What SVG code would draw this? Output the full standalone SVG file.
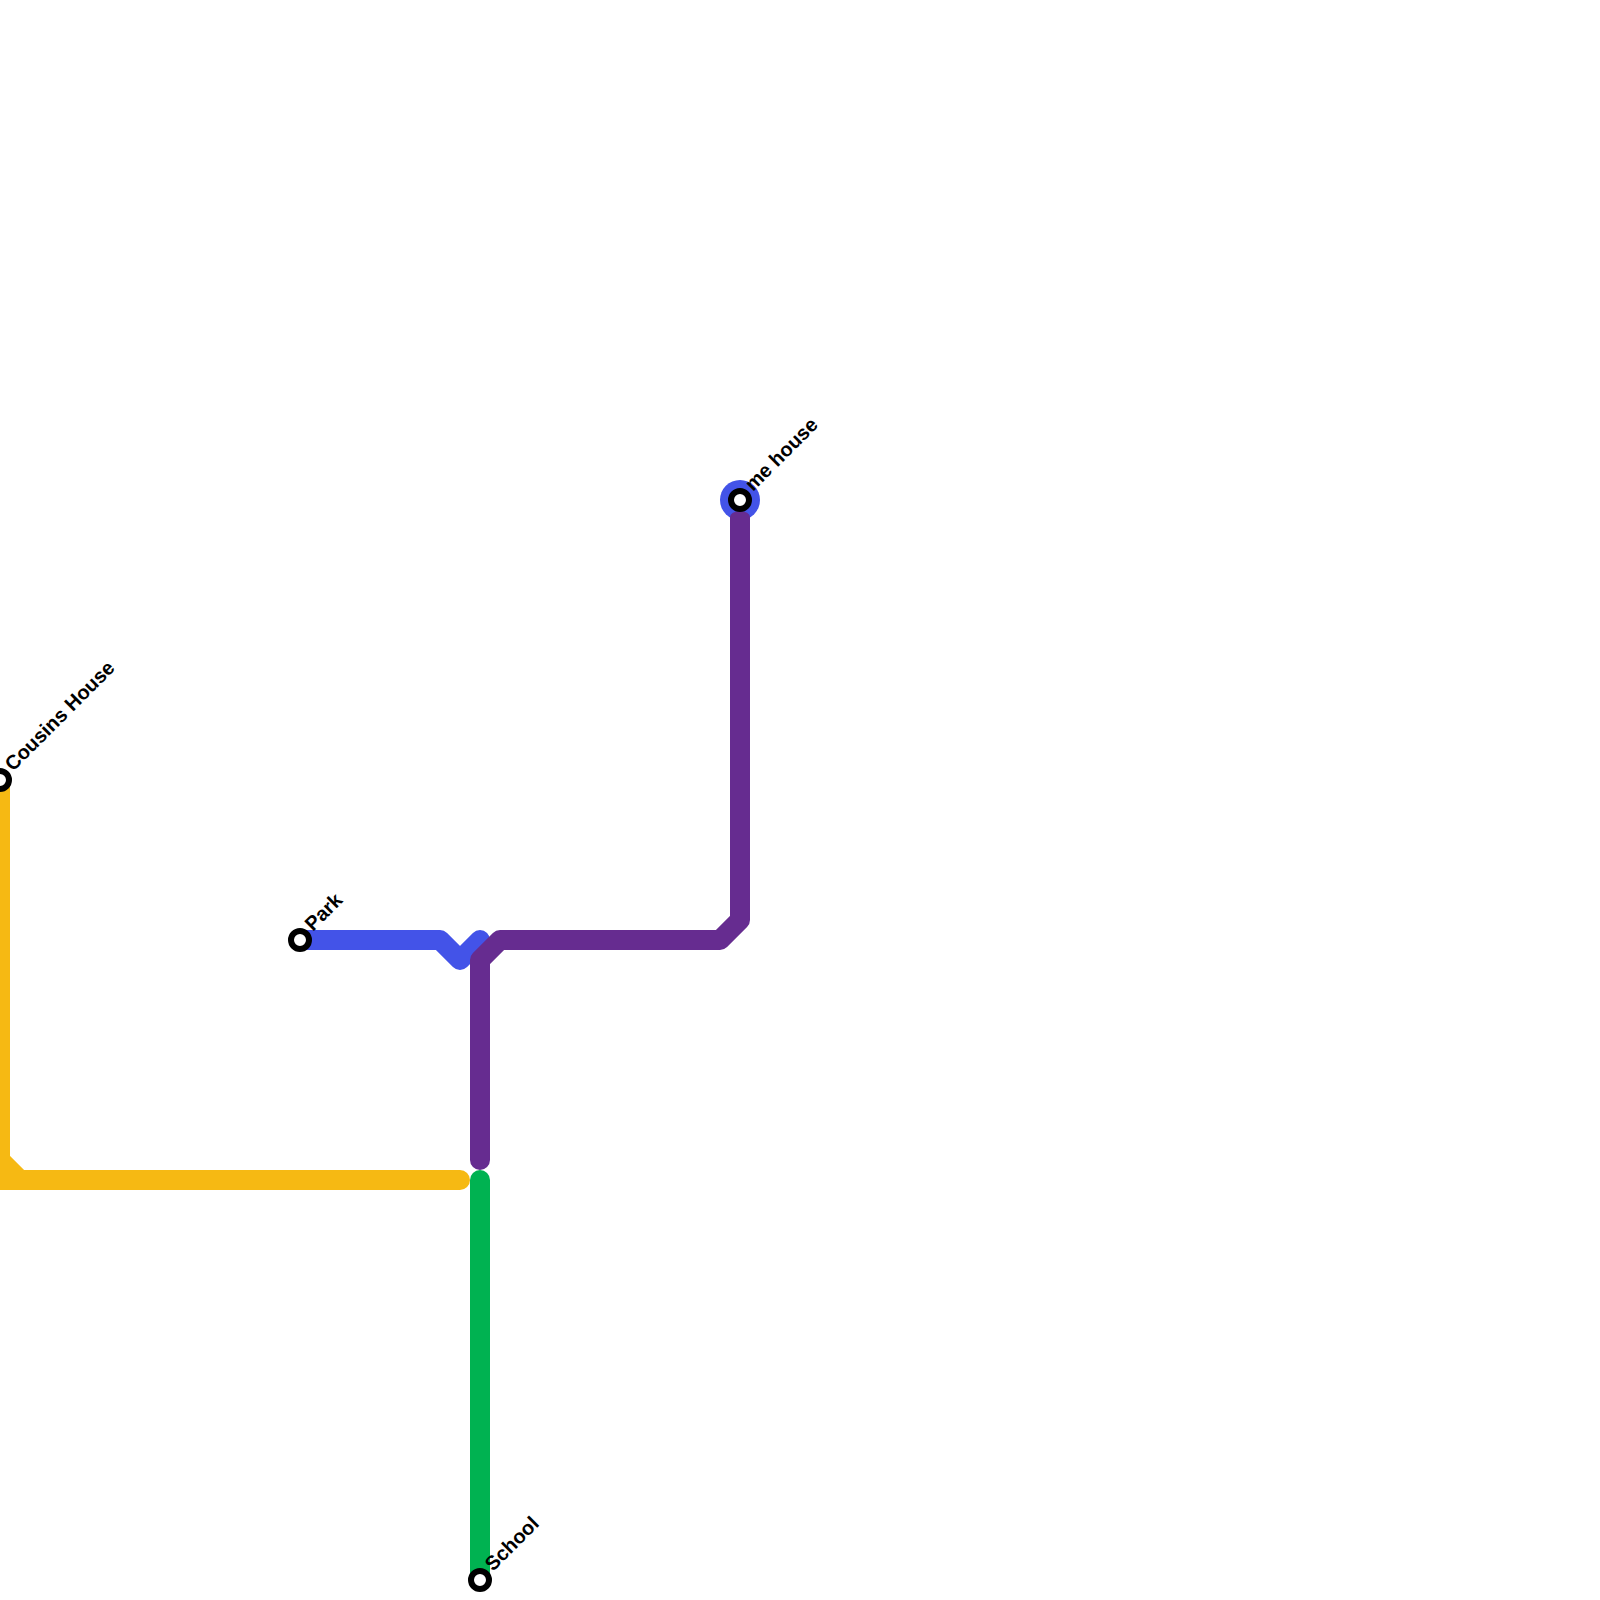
<svg xmlns="http://www.w3.org/2000/svg" width="1600" height="1600" viewBox="0 0 1600 1600">
<style>
.l{fill:none;stroke-width:20;stroke-linecap:round;stroke-linejoin:round}
.s{fill:#fff;stroke:#000;stroke-width:6}
.t{font-family:"Liberation Sans",Arial,sans-serif;font-size:20px;font-weight:700;fill:#000}
</style>
<rect width="1600" height="1600" fill="#fff"/>
<g id="connectors">
<path class="l" stroke="#f6b913" d="M0 780V1180H460M0 1160L20 1180"/>
<path class="l" stroke="#4353e8" d="M300 940H440L460 960L480 940"/>
<path class="l" stroke="#00b251" d="M480 1180V1580"/>
<circle cx="740" cy="500" r="20" fill="#4353e8"/>
<path class="l" stroke="#662c90" d="M480 1160V960L500 940H720L740 920V530"/>
<path fill="#662c90" d="M730 530V517A10 6 0 0 1 750 517V530Z"/>
</g>
<g id="node-home"><circle class="s" cx="740" cy="500" r="9"/><text class="t" transform="translate(753 492) rotate(-45)">me house</text></g>
<g id="node-cousins"><circle class="s" cx="0" cy="780" r="9"/><text class="t" transform="translate(13 772) rotate(-45)">Cousins House</text></g>
<g id="node-park"><circle class="s" cx="300" cy="940" r="9"/><text class="t" transform="translate(313 932) rotate(-45)">Park</text></g>
<g id="node-school"><circle class="s" cx="480" cy="1580" r="9"/><text class="t" transform="translate(493 1572) rotate(-45)">School</text></g>
</svg>
